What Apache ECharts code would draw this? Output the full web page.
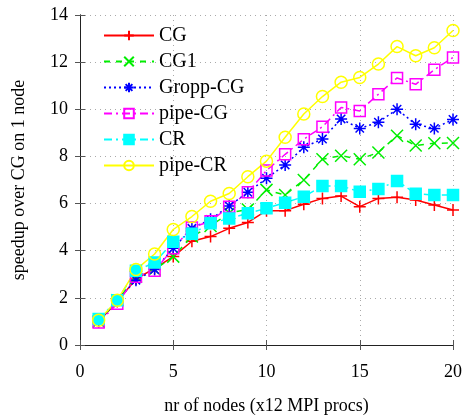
<!DOCTYPE html>
<html>
<head>
<meta charset="utf-8">
<script src="https://cdn.jsdelivr.net/npm/echarts@6/dist/echarts.min.js"></script>
<style>
    html, body { margin: 0; padding: 0; background: #fff; }
    #main { width: 468px; height: 417px; }
</style>
</head>
<body>
<div id="main"></div>
<script>
    var nodes = [1, 2, 3, 4, 5, 6, 7, 8, 9, 10, 11, 12, 13, 14, 15, 16, 17, 18, 19, 20];
    var cg = [1.0, 1.85, 2.8, 3.25, 3.75, 4.4, 4.6, 4.95, 5.2, 5.7, 5.7, 5.97, 6.22, 6.32, 5.87, 6.22, 6.27, 6.15, 5.94, 5.73];
    var cg1 = [1.0, 1.9, 2.9, 3.2, 3.75, 4.6, 5.05, 5.6, 5.75, 6.58, 6.36, 7.0, 7.88, 8.03, 7.88, 8.17, 8.88, 8.46, 8.56, 8.57];
    var groppCg = [1.0, 1.9, 2.75, 3.2, 4.1, 4.95, 5.33, 5.9, 6.48, 7.07, 7.64, 8.39, 8.74, 9.59, 9.19, 9.45, 10.0, 9.36, 9.19, 9.57];
    var pipeCg = [0.95, 1.75, 2.9, 3.15, 4.1, 4.99, 5.25, 5.87, 6.48, 7.4, 8.09, 8.73, 9.26, 10.08, 9.93, 10.64, 11.33, 11.06, 11.68, 12.2];
    var cr = [1.1, 1.9, 3.15, 3.5, 4.38, 4.72, 5.16, 5.37, 5.59, 5.8, 6.04, 6.29, 6.75, 6.75, 6.5, 6.62, 6.96, 6.42, 6.36, 6.36];
    var pipeCr = [1.05, 1.9, 3.2, 3.86, 4.9, 5.45, 6.1, 6.43, 7.14, 7.8, 8.81, 9.8, 10.54, 11.15, 11.35, 11.92, 12.66, 12.27, 12.61, 13.34];

    var serif = '"Liberation Serif", "DejaVu Serif", serif';

    function pairs(vals) {
        return nodes.map(function (n, i) { return [n, vals[i]]; });
    }

    // stroke-only marker shapes
    var plusPath = 'path://M5,0L5,10M0,5L10,5';
    var crossPath = 'path://M0,0L10,10M10,0L0,10';
    var starPath = 'path://M5,0L5,10M0,5L10,5M1.5,1.5L8.5,8.5M8.5,1.5L1.5,8.5';

    function mk(name, vals, color, dash, symbol, size, filled) {
        return {
            name: name,
            type: 'line',
            data: pairs(vals),
            symbol: symbol,
            symbolSize: size,
            showAllSymbol: true,
            lineStyle: { color: color, width: 1.5, type: dash },
            itemStyle: {
                color: filled ? color : 'rgba(0,0,0,0)',
                borderColor: color,
                borderWidth: 1.5
            },
            emphasis: { disabled: true },
            z: 3
        };
    }

    var chart = echarts.init(document.getElementById('main'));
    var axisLine = { show: true, lineStyle: { color: '#222', width: 1 } };
    var grid = { show: true, lineStyle: { color: '#aaa', type: [1, 4] } };

    chart.setOption({
        animation: false,
        grid: { left: 80, right: 15, top: 15, bottom: 72, outerBoundsMode: 'none' },
        legend: {
            orient: 'vertical',
            left: 98,
            top: 20,
            itemWidth: 50,
            itemHeight: 12,
            itemGap: 5,
            textStyle: { fontFamily: serif, fontSize: 20, color: '#000', lineHeight: 21 },
            data: ['CG', 'CG1', 'Gropp-CG', 'pipe-CG', 'CR', 'pipe-CR']
        },
        xAxis: [{
            type: 'value', min: 0, max: 20, interval: 5,
            name: 'nr of nodes (x12 MPI procs)',
            nameLocation: 'middle', nameGap: 52,
            nameTextStyle: { fontFamily: serif, fontSize: 18, color: '#000' },
            axisLine: axisLine,
            axisTick: { show: true, inside: true, length: 5, lineStyle: { color: '#555' } },
            axisLabel: { fontFamily: serif, fontSize: 18, color: '#000', margin: 18 },
            splitLine: grid
        }, {
            type: 'value', min: 0, max: 20, interval: 5, position: 'top',
            axisLine: axisLine,
            axisTick: { show: true, inside: true, length: 5, lineStyle: { color: '#555' } },
            axisLabel: { show: false },
            splitLine: { show: false }
        }],
        yAxis: [{
            type: 'value', min: 0, max: 14, interval: 2,
            name: 'speedup over CG on 1 node',
            nameLocation: 'middle', nameGap: 52,
            nameTextStyle: { fontFamily: serif, fontSize: 18, color: '#000' },
            axisLine: axisLine,
            axisTick: { show: true, inside: true, length: 5, lineStyle: { color: '#555' } },
            axisLabel: { fontFamily: serif, fontSize: 18, color: '#000', margin: 12 },
            splitLine: grid
        }, {
            type: 'value', min: 0, max: 14, interval: 2, position: 'right',
            axisLine: axisLine,
            axisTick: { show: true, inside: true, length: 5, lineStyle: { color: '#555' } },
            axisLabel: { show: false },
            splitLine: { show: false }
        }],
        series: [
            mk('CG', cg, '#ff0000', 'solid', plusPath, 12, false),
            mk('CG1', cg1, '#00ee00', [6, 6], crossPath, 12, false),
            mk('Gropp-CG', groppCg, '#0000ff', [2, 3], starPath, 12, false),
            mk('pipe-CG', pipeCg, '#ff00ff', [8, 4, 2, 4], 'rect', 11, false),
            mk('CR', cr, '#00ffff', [8, 4, 2, 4], 'rect', 11, true),
            mk('pipe-CR', pipeCr, '#ffff00', 'solid', 'circle', 12, false)
        ]
    });
</script>
</body>
</html>
